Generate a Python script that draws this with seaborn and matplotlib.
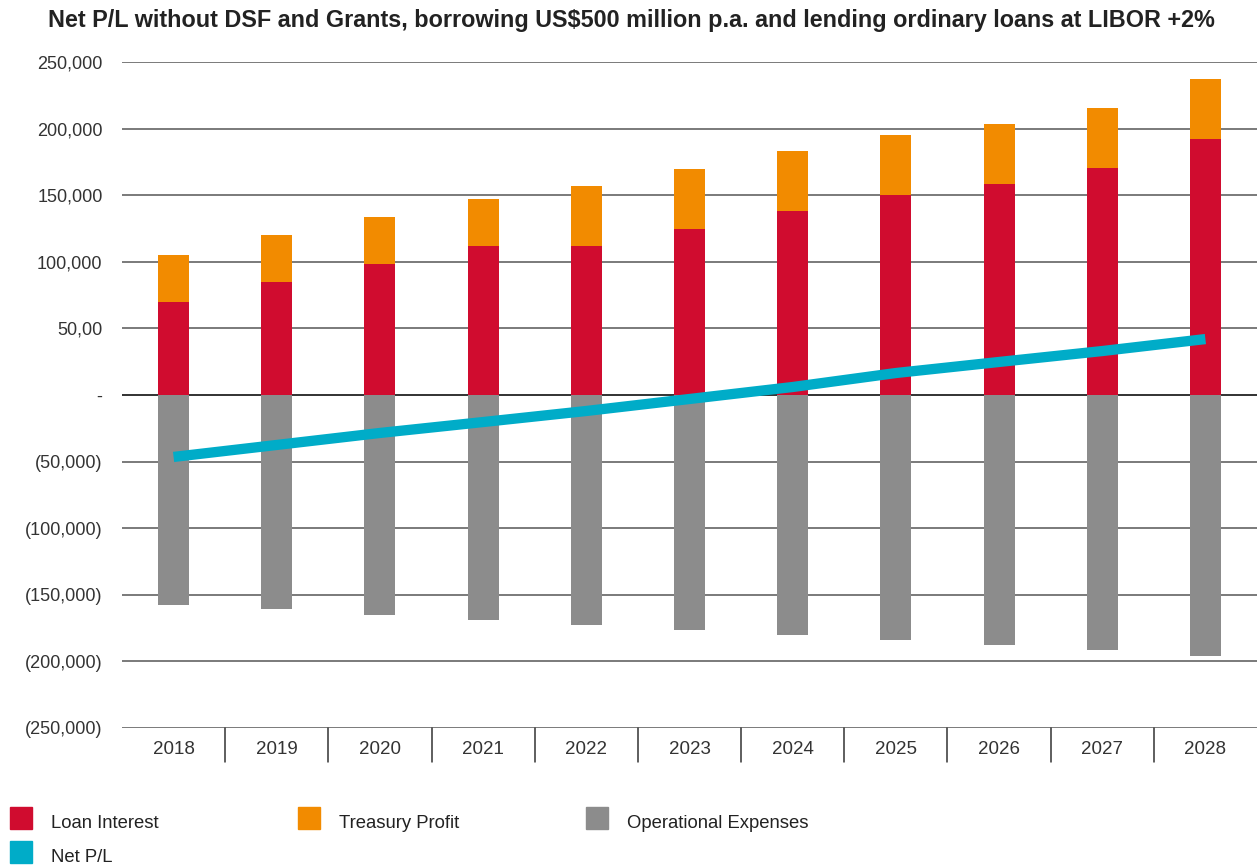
import numpy as np
import pandas as pd
import seaborn as sns
import matplotlib
matplotlib.use("Agg")
import matplotlib.pyplot as plt
from matplotlib.patches import Rectangle
from matplotlib.transforms import blended_transform_factory

years = ["2018", "2019", "2020", "2021", "2022", "2023", "2024", "2025", "2026", "2027", "2028"]
loan_interest = [70000, 85000, 98500, 112000, 112000, 124500, 138000, 150000, 158500, 170500, 192000]
treasury_profit = [35000, 35000, 35000, 35000, 45000, 45000, 45000, 45000, 45000, 45000, 45000]
operational_expenses = [-157500, -160500, -165000, -169000, -172500, -176500, -180000, -184000, -188000, -191500, -196000]
net_pl = [-46500, -37500, -28500, -20300, -12000, -3000, 6000, 16500, 24800, 33000, 42000]
y_ticks = [250000, 200000, 150000, 100000, 50000, 0, -50000, -100000, -150000, -200000, -250000]
y_tick_labels = ["250,000", "200,000", "150,000", "100,000", "50,00", "-", "(50,000)",
                 "(100,000)", "(150,000)", "(200,000)", "(250,000)"]
legend_labels = ["Loan Interest", "Treasury Profit", "Operational Expenses", "Net P/L"]

RED = "#D00C2F"
ORANGE = "#F28B00"
GRAY = "#8C8C8C"
CYAN = "#00ACC8"

sns.set_theme(style="white")
plt.rcParams["font.family"] = ["Liberation Sans", "DejaVu Sans"]

df = pd.DataFrame({
    "year": years,
    "loan": loan_interest,
    "treasury": treasury_profit,
    "opex": operational_expenses,
    "net": net_pl,
})
df["total"] = df["loan"] + df["treasury"]

W, H = 1257, 868
fig = plt.figure(figsize=(W / 100, H / 100), dpi=100)
ax = fig.add_axes([122 / W, 1 - 728 / H, (1257 - 122) / W, (728 - 62) / H])

# grid lines
for t in y_ticks:
    ax.axhline(t, color="#222222" if t == 0 else "#707070", lw=1.3, zorder=0)

bw = 0.3
sns.barplot(data=df, x="year", y="total", color=ORANGE, width=bw, ax=ax,
            saturation=1, edgecolor="none", linewidth=0, zorder=2)
sns.barplot(data=df, x="year", y="loan", color=RED, width=bw, ax=ax,
            saturation=1, edgecolor="none", linewidth=0, zorder=3)
sns.barplot(data=df, x="year", y="opex", color=GRAY, width=bw, ax=ax,
            saturation=1, edgecolor="none", linewidth=0, zorder=2)
sns.lineplot(data=df, x="year", y="net", color=CYAN, lw=7.4, ax=ax,
             solid_capstyle="butt", zorder=5, sort=False)

ax.set_xlim(-0.5, len(years) - 0.5)
ax.set_ylim(-250000, 250000)
ax.set_yticks(y_ticks)
ax.set_yticklabels(y_tick_labels)
ax.set_xlabel("")
ax.set_ylabel("")
for s in ax.spines.values():
    s.set_visible(False)
ax.tick_params(axis="y", length=0, pad=14, labelsize=13, labelcolor="#333333")
ax.tick_params(axis="x", length=0, pad=9, labelsize=13.5, labelcolor="#333333")

# category separators below axis
trans = blended_transform_factory(ax.transData, ax.transAxes)
for i in range(len(years) - 1):
    ax.plot([i + 0.5, i + 0.5], [0, -34 / 666], transform=trans, color="#333333",
            lw=1.1, clip_on=False)

fig.text(631 / W, 1 - 20 / H, "Net P/L without DSF and Grants, borrowing US$500 million p.a. and lending ordinary loans at LIBOR +2%",
         ha="center", va="center", fontsize=16.8, fontweight="bold", color="#222222")

# legend
leg_items = [
    (legend_labels[0], RED, 10, 818),
    (legend_labels[1], ORANGE, 298, 818),
    (legend_labels[2], GRAY, 586, 818),
    (legend_labels[3], CYAN, 10, 852),
]
for lab, col, x, yc in leg_items:
    fig.patches.append(Rectangle((x / W, 1 - (yc + 11) / H), 22 / W, 22 / H,
                                 transform=fig.transFigure, color=col, figure=fig))
    fig.text((x + 41) / W, 1 - (yc + 5) / H, lab, ha="left", va="center",
             fontsize=13.3, color="#222222")

fig.savefig("out.png", dpi=100)
